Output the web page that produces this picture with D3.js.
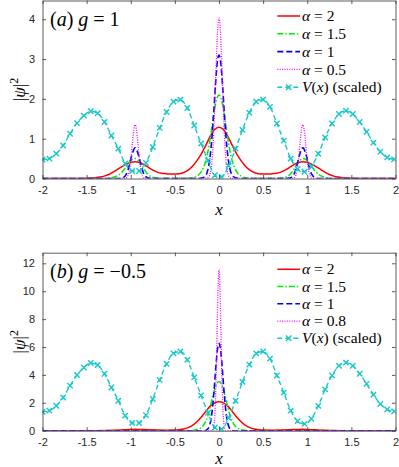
<!DOCTYPE html>
<html>
<head>
<meta charset="utf-8">
<script src="https://cdn.jsdelivr.net/npm/d3@7"></script>
<style>
body { margin: 0; background: #fff; }
</style>
</head>
<body>
<svg width="399" height="467"></svg>
<script>
// ---- data ----
const xTicks = [-2, -1.5, -1, -0.5, 0, 0.5, 1, 1.5, 2];
const yTicksA = [0, 1, 2, 3, 4];
const yTicksB = [0, 2, 4, 6, 8, 10, 12];
const alphasA = ["2", "1.5", "1", "0.5"];
const alphasB = ["2", "1.5", "1", "0.8"];

// marker positions of the scaled potential
const vX = [-2, -1.922, -1.844, -1.766, -1.688, -1.609, -1.531, -1.453, -1.375, -1.297, -1.219, -1.141, -1.063,
  -0.984, -0.906, -0.828, -0.75, -0.672, -0.594, -0.516, -0.438, -0.359, -0.281, -0.203, -0.125, -0.047,
  0.031, 0.109, 0.188, 0.266, 0.344, 0.422, 0.5, 0.578, 0.656, 0.734, 0.813, 0.891, 0.969, 1.047,
  1.125, 1.203, 1.281, 1.359, 1.438, 1.516, 1.594, 1.672, 1.75, 1.828, 1.906, 1.984];
const vA = [0.475, 0.50, 0.625, 0.83, 1.125, 1.39, 1.58, 1.69, 1.64, 1.42, 1.08, 0.75, 0.375, 0.19, 0.19, 0.39,
  0.79, 1.27, 1.67, 1.93, 1.98, 1.77, 1.33, 0.88, 0.45, 0.08, 0.04, 0.32, 0.75, 1.22, 1.65, 1.93, 1.98, 1.80,
  1.38, 0.95, 0.50, 0.24, 0.17, 0.30, 0.62, 1.03, 1.38, 1.62, 1.70, 1.62, 1.42, 1.17, 0.90, 0.67, 0.53, 0.48];
const vB = [1.36, 1.44, 1.79, 2.38, 3.23, 3.99, 4.53, 4.85, 4.71, 4.08, 3.10, 2.15, 1.08, 0.55, 0.55, 1.12,
  2.27, 3.64, 4.79, 5.54, 5.68, 5.08, 3.82, 2.53, 1.29, 0.23, 0.11, 0.92, 2.15, 3.50, 4.74, 5.54, 5.68, 5.17,
  3.96, 2.73, 1.44, 0.69, 0.49, 0.86, 1.78, 2.96, 3.96, 4.65, 4.88, 4.65, 4.08, 3.36, 2.58, 1.92, 1.52, 1.38];

// panel (a), g = 1
const redA = [[-2,0],[-1.6,0],[-1.5,0.005],[-1.45,0.01],[-1.4,0.02],[-1.35,0.035],[-1.3,0.06],[-1.25,0.1],[-1.2,0.16],
  [-1.15,0.23],[-1.1,0.3],[-1.05,0.36],[-1,0.41],[-0.95,0.42],[-0.9,0.4],[-0.85,0.35],[-0.8,0.28],[-0.75,0.21],
  [-0.7,0.16],[-0.65,0.13],[-0.6,0.12],[-0.55,0.11],[-0.5,0.11],[-0.45,0.12],[-0.4,0.15],[-0.35,0.21],[-0.3,0.31],
  [-0.25,0.45],[-0.2,0.62],[-0.15,0.83],[-0.1,1.06],[-0.05,1.23],[0,1.29],[0.05,1.23],[0.1,1.06],[0.15,0.83],
  [0.2,0.62],[0.25,0.45],[0.3,0.31],[0.35,0.21],[0.4,0.15],[0.45,0.12],[0.5,0.11],[0.55,0.11],[0.6,0.12],
  [0.65,0.13],[0.7,0.16],[0.75,0.21],[0.8,0.28],[0.85,0.35],[0.9,0.4],[0.95,0.42],[1,0.41],[1.05,0.36],[1.1,0.3],
  [1.15,0.23],[1.2,0.16],[1.25,0.1],[1.3,0.06],[1.35,0.035],[1.4,0.02],[1.45,0.01],[1.5,0.005],[1.6,0],[2,0]];
const greenA = [[-2,0],[-1.3,0],[-1.2,0.03],[-1.15,0.07],[-1.1,0.16],[-1.05,0.3],[-1,0.45],[-0.95,0.5],[-0.9,0.42],
  [-0.85,0.24],[-0.8,0.09],[-0.75,0.03],[-0.7,0.01],[-0.6,0.005],[-0.45,0.005],[-0.35,0.01],[-0.3,0.02],[-0.25,0.06],
  [-0.2,0.17],[-0.175,0.28],[-0.15,0.44],[-0.125,0.68],[-0.1,1.0],[-0.075,1.38],[-0.05,1.74],[-0.025,2.0],[0,2.1],
  [0.025,2.0],[0.05,1.74],[0.075,1.38],[0.1,1.0],[0.125,0.68],[0.15,0.44],[0.175,0.28],[0.2,0.17],[0.25,0.06],
  [0.3,0.02],[0.35,0.01],[0.45,0.005],[0.6,0.005],[0.7,0.01],[0.75,0.03],[0.8,0.09],[0.85,0.24],[0.9,0.42],
  [0.95,0.5],[1,0.45],[1.05,0.3],[1.1,0.16],[1.15,0.07],[1.2,0.03],[1.3,0],[2,0]];
const blueA = [[-2,0],[-1.15,0],[-1.1,0.01],[-1.05,0.11],[-1.02,0.3],[-0.99,0.57],[-0.95,0.77],[-0.91,0.57],[-0.88,0.3],
  [-0.85,0.11],[-0.8,0.01],[-0.75,0],[-0.25,0],[-0.2,0.01],[-0.16,0.05],[-0.14,0.12],[-0.12,0.28],[-0.1,0.57],
  [-0.08,1.02],[-0.06,1.65],[-0.04,2.35],[-0.02,2.9],[0,3.1],[0.02,2.9],[0.04,2.35],[0.06,1.65],[0.08,1.02],
  [0.1,0.57],[0.12,0.28],[0.14,0.12],[0.16,0.05],[0.2,0.01],[0.25,0],[0.75,0],[0.8,0.01],[0.85,0.11],[0.88,0.3],
  [0.91,0.57],[0.95,0.77],[0.99,0.57],[1.02,0.3],[1.05,0.11],[1.1,0.01],[1.15,0],[2,0]];
const magA = [[-2,0],[-1.06,0],[-1.04,0.04],[-1.025,0.11],[-1.01,0.28],[-0.995,0.56],[-0.98,0.92],[-0.965,1.23],
  [-0.95,1.35],[-0.935,1.23],[-0.92,0.92],[-0.905,0.56],[-0.89,0.28],[-0.875,0.11],[-0.86,0.04],[-0.84,0],
  [-0.14,0],[-0.12,0.03],[-0.105,0.09],[-0.09,0.24],[-0.075,0.57],[-0.06,1.15],[-0.045,2.0],[-0.03,2.95],
  [-0.015,3.73],[0,4.03],[0.015,3.73],[0.03,2.95],[0.045,2.0],[0.06,1.15],[0.075,0.57],[0.09,0.24],[0.105,0.09],
  [0.12,0.03],[0.14,0],[0.84,0],[0.86,0.04],[0.875,0.11],[0.89,0.28],[0.905,0.56],[0.92,0.92],[0.935,1.23],
  [0.95,1.35],[0.965,1.23],[0.98,0.92],[0.995,0.56],[1.01,0.28],[1.025,0.11],[1.04,0.04],[1.06,0],[2,0]];

// panel (b), g = -0.5
const redB = [[-2,0],[-1.4,0],[-1.3,0.01],[-1.2,0.03],[-1.1,0.06],[-1,0.09],[-0.95,0.1],[-0.9,0.09],[-0.8,0.07],
  [-0.7,0.05],[-0.6,0.04],[-0.5,0.05],[-0.45,0.07],[-0.4,0.12],[-0.35,0.22],[-0.3,0.39],[-0.25,0.64],[-0.2,0.98],
  [-0.15,1.38],[-0.1,1.76],[-0.05,2.0],[0,2.08],[0.05,2.0],[0.1,1.76],[0.15,1.38],[0.2,0.98],[0.25,0.64],
  [0.3,0.39],[0.35,0.22],[0.4,0.12],[0.45,0.07],[0.5,0.05],[0.6,0.04],[0.7,0.05],[0.8,0.07],[0.9,0.09],
  [0.95,0.1],[1,0.09],[1.1,0.06],[1.2,0.03],[1.3,0.01],[1.4,0],[2,0]];
const greenB = [[-2,0],[-0.35,0],[-0.3,0.02],[-0.25,0.07],[-0.2,0.23],[-0.175,0.4],[-0.15,0.68],[-0.125,1.1],
  [-0.1,1.68],[-0.075,2.35],[-0.05,2.95],[-0.025,3.37],[0,3.52],[0.025,3.37],[0.05,2.95],[0.075,2.35],[0.1,1.68],
  [0.125,1.1],[0.15,0.68],[0.175,0.4],[0.2,0.23],[0.25,0.07],[0.3,0.02],[0.35,0],[2,0]];
const blueB = [[-2,0],[-0.16,0],[-0.14,0.05],[-0.12,0.18],[-0.105,0.41],[-0.09,0.85],[-0.075,1.57],[-0.06,2.58],
  [-0.045,3.8],[-0.03,5.02],[-0.015,5.93],[0,6.27],[0.015,5.93],[0.03,5.02],[0.045,3.8],[0.06,2.58],[0.075,1.57],
  [0.09,0.85],[0.105,0.41],[0.12,0.18],[0.14,0.05],[0.16,0],[2,0]];
const magB = [[-2,0],[-0.08,0],[-0.07,0.07],[-0.06,0.28],[-0.05,0.87],[-0.04,2.2],[-0.03,4.56],[-0.02,7.64],
  [-0.01,10.42],[0,11.55],[0.01,10.42],[0.02,7.64],[0.03,4.56],[0.04,2.2],[0.05,0.87],[0.06,0.28],[0.07,0.07],
  [0.08,0],[2,0]];

// ---- drawing ----
var svg = d3.select("svg");
var x = d3.scaleLinear().domain([-2, 2]).range([42.5, 395.5]);

var colors = ["#ff0000", "#00ee00", "#0000ff", "#ff00ff"];
var dashes = [null, "6,2,1.5,2", "6,3", "1,1.4"];
var widths = [1.5, 1.5, 1.6, 1.3];
var cyan = "#18c8c8";
var serif = "'Liberation Serif', 'DejaVu Serif', serif";
var sans = "'Liberation Sans', Arial, sans-serif";
var axisCol = "#333";

function xMark(px, py) {
    var s = 2.7;
    return "M" + (px - s) + "," + (py - s) + "L" + (px + s) + "," + (py + s) +
           "M" + (px - s) + "," + (py + s) + "L" + (px + s) + "," + (py - s);
}

function drawPanel(id, top, bottom, ymax, yTicks, series, vY, alphas, label, gText, legTop, legStep, xLabY) {
    var y = d3.scaleLinear().domain([0, ymax]).range([bottom, top]);
    var g = svg.append("g");

    g.append("clipPath").attr("id", id)
     .append("rect").attr("x", 42.5).attr("y", top).attr("width", 353).attr("height", bottom - top);

    var line = d3.line()
        .x(function(d) { return x(d[0]); })
        .y(function(d) { return y(d[1]); })
        .curve(d3.curveMonotoneX);

    var plot = g.append("g").attr("clip-path", "url(#" + id + ")");

    series.forEach(function(s, i) {
        plot.append("path")
            .attr("d", line(s))
            .attr("fill", "none")
            .attr("stroke", colors[i])
            .attr("stroke-width", widths[i])
            .attr("stroke-dasharray", dashes[i]);
    });

    var vPts = vX.map(function(d, i) { return [d, vY[i]]; });
    plot.append("path")
        .attr("d", line(vPts))
        .attr("fill", "none")
        .attr("stroke", cyan)
        .attr("stroke-width", 1.4)
        .attr("stroke-dasharray", "5,3");
    plot.append("path")
        .attr("d", vPts.map(function(d) { return xMark(x(d[0]), y(d[1])); }).join(""))
        .attr("fill", "none")
        .attr("stroke", cyan)
        .attr("stroke-width", 1.4);

    // axes, MATLAB-style box with inward ticks
    var fmt = function(d) { return String(d); };
    var ax = [
        g.append("g").attr("transform", "translate(0," + bottom + ")")
         .call(d3.axisBottom(x).tickValues(xTicks).tickSize(-3.5).tickSizeOuter(0).tickPadding(8).tickFormat(fmt)),
        g.append("g").attr("transform", "translate(0," + top + ")")
         .call(d3.axisTop(x).tickValues(xTicks).tickSize(-3.5).tickSizeOuter(0).tickFormat("")),
        g.append("g").attr("transform", "translate(42.5,0)")
         .call(d3.axisLeft(y).tickValues(yTicks).tickSize(-3.5).tickSizeOuter(0).tickPadding(7.5).tickFormat(fmt)),
        g.append("g").attr("transform", "translate(395.5,0)")
         .call(d3.axisRight(y).tickValues(yTicks).tickSize(-3.5).tickSizeOuter(0).tickFormat(""))
    ];
    ax.forEach(function(a) {
        a.selectAll(".domain, .tick line").attr("stroke", axisCol).attr("stroke-width", 0.8);
        a.selectAll("text").attr("fill", "#262626").style("font-family", sans).style("font-size", "11px");
    });

    // panel title
    var t = g.append("text").attr("x", 50).attr("y", top + 25)
        .style("font-family", serif).style("font-size", "20px").attr("fill", "#000");
    t.append("tspan").text("(");
    t.append("tspan").attr("font-style", "italic").text(label);
    t.append("tspan").text(") ");
    t.append("tspan").attr("font-style", "italic").text("g");
    t.append("tspan").text(" = " + gText);

    // y label
    var yl = g.append("text")
        .attr("transform", "translate(25," + ((top + bottom) / 2) + ") rotate(-90)")
        .attr("text-anchor", "middle")
        .style("font-family", serif).style("font-size", "17px");
    yl.append("tspan").text("|");
    yl.append("tspan").attr("font-style", "italic").text("ψ");
    yl.append("tspan").text("|");
    yl.append("tspan").attr("dy", "-7").style("font-size", "12px").text("2");

    // x label
    g.append("text").attr("x", 219).attr("y", xLabY)
        .attr("text-anchor", "middle")
        .style("font-family", serif).style("font-size", "17px")
        .attr("font-style", "italic").text("x");

    // legend
    alphas.concat(["V"]).forEach(function(a, i) {
        var ly = legTop + i * legStep;
        var isV = i === alphas.length;
        g.append("line").attr("x1", 277.3).attr("x2", 300).attr("y1", ly).attr("y2", ly)
            .attr("stroke", isV ? cyan : colors[i])
            .attr("stroke-width", isV ? 1.4 : widths[i])
            .attr("stroke-dasharray", isV ? "5,3" : dashes[i]);
        if (isV) {
            g.append("path").attr("d", xMark(288.7, ly)).attr("stroke", cyan).attr("stroke-width", 1.4);
        }
        var lt = g.append("text").attr("x", 302).attr("y", ly).attr("dy", "0.33em")
            .style("font-family", serif).style("font-size", "15.5px");
        if (isV) {
            lt.append("tspan").attr("font-style", "italic").text("V");
            lt.append("tspan").text("(");
            lt.append("tspan").attr("font-style", "italic").text("x");
            lt.append("tspan").text(") (scaled)");
        } else {
            lt.append("tspan").attr("font-style", "italic").text("α");
            lt.append("tspan").text(" = " + a);
        }
    });
}

drawPanel("clipA", 0.5, 178.5, 4.47, yTicksA, [redA, greenA, blueA, magA], vA, alphasA, "a", "1", 16, 17.8, 215);
drawPanel("clipB", 252.7, 430.7, 12.76, yTicksB, [redB, greenB, blueB, magB], vB, alphasB, "b", "\u22120.5", 269.3, 17.25, 463.5);
</script>
</body>
</html>
